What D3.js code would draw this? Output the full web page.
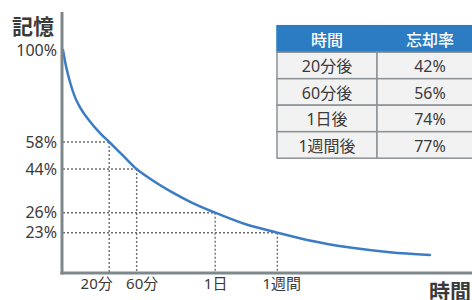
<!DOCTYPE html>
<html><head><meta charset="utf-8">
<script src="https://cdn.jsdelivr.net/npm/d3@7"></script>
<style>
html,body{margin:0;padding:0;background:#fff;}
svg{display:block;font-family:"Noto Sans","Noto Sans CJK JP",sans-serif;}
svg text{font-family:"Noto Sans","Noto Sans CJK JP",sans-serif;}
</style></head>
<body><svg id="c" width="472" height="300"></svg>
<script>
// ---- data ----
const timeLabels = ["20分", "60分", "1日", "1週間"];
const timePos = [11.3, 18.0, 37.2, 52.4];          // position on the (schematic) time axis
const retention = [58, 44, 26, 23];                // memory % at those times
const yTickValues = [100, 58, 44, 26, 23];
const curveT = [0, 0.73, 1.71, 2.93, 4.16, 6.60, 9.05, 11.3, 14.7, 18.0, 21.3, 26.2, 31.1, 37.2, 44.5, 52.4, 60.3, 70.2, 79.9, 89.7];
const curveV = [100, 92.7, 85.4, 78.5, 73.8, 67.4, 62.1, 58, 50.9, 44, 40.0, 34.9, 30.5, 26, 24.3, 23, 18.5, 14.4, 11.7, 10.1];
const tableHeader = ["時間", "忘却率"];
const tableTime = ["20分後", "60分後", "1日後", "1週間後"];
const tableRate = ["42%", "56%", "74%", "77%"];

// ---- scales ----
const svg = d3.select("#c");
const x = d3.scaleLinear().domain([0, 100]).range([63, 472]);
const y = d3.scaleLinear().domain([0, 23, 26, 44, 58, 100]).range([272.5, 232.7, 212.7, 169, 142, 50]);

const textCol = "#3a3a3a";
const axisCol = "#7e888b";
const FONT = '"Noto Sans", "Noto Sans CJK JP", sans-serif';

// dotted guides
const guides = svg.append("g").attr("stroke", "#6f6f6f").attr("stroke-width", 1.4).attr("stroke-dasharray", "2,2").attr("fill", "none");
timePos.forEach((t, i) => {
  guides.append("line").attr("x1", x(0)).attr("x2", x(t)).attr("y1", y(retention[i])).attr("y2", y(retention[i]));
  guides.append("line").attr("x1", x(t)).attr("x2", x(t)).attr("y1", y(retention[i])).attr("y2", y(0));
});

// curve
const pts = curveT.map((t, i) => [t, curveV[i]]);
svg.append("path").datum(pts)
  .attr("fill", "none").attr("stroke", "#3b7cc4").attr("stroke-width", 2.5).attr("stroke-linecap", "round")
  .attr("d", d3.line().x(d => x(d[0])).y(d => y(d[1])).curve(d3.curveMonotoneX));

// axes
const yAxis = d3.axisLeft(y).tickValues(yTickValues).tickFormat(d => d + "%").tickSize(0).tickPadding(6);
const gy = svg.append("g").attr("transform", "translate(62,0)").call(yAxis).attr("font-family", null);
gy.select(".domain").remove();
gy.selectAll("text").attr("font-size", 16).attr("fill", textCol).style("font-family", FONT).attr("x", -5);

const xAxis = d3.axisBottom(x).tickValues(timePos).tickFormat((d, i) => timeLabels[i]).tickSize(0).tickPadding(5);
const gx = svg.append("g").attr("transform", "translate(0,273)").call(xAxis).attr("font-family", null);
gx.select(".domain").remove();
gx.selectAll("text").attr("font-size", 15).attr("fill", textCol).style("font-family", FONT)
  .attr("text-anchor", (d, i) => i === 0 ? "end" : (i === 1 ? "start" : "middle"))
  .attr("dx", (d, i) => i === 0 ? 3 : (i === 1 ? -11 : (i === 3 ? 4 : 0)));

svg.append("line").attr("x1", 62).attr("x2", 62).attr("y1", 12).attr("y2", 274.5).attr("stroke", axisCol).attr("stroke-width", 3);
svg.append("line").attr("x1", 60.5).attr("x2", 472).attr("y1", 273).attr("y2", 273).attr("stroke", axisCol).attr("stroke-width", 3);

// axis titles
svg.append("text").attr("x", 12).attr("y", 34).attr("font-size", 21).attr("font-weight", 700).attr("fill", textCol).text("記憶");
svg.append("text").attr("x", 429).attr("y", 299).attr("font-size", 21).attr("font-weight", 700).attr("fill", textCol).text("時間");

// table
const tx = 277, ty = 25.7, rowH = 26.5, colW = [100, 106];
const tg = svg.append("g");
const rows = [tableHeader].concat(tableTime.map((t, i) => [t, tableRate[i]]));
rows.forEach((r, ri) => {
  let cx = tx;
  r.forEach((cell, ci) => {
    tg.append("rect").attr("x", cx).attr("y", ty + ri * rowH).attr("width", colW[ci]).attr("height", rowH)
      .attr("fill", ri === 0 ? "#2b7cc3" : "#f2f2f2")
      .attr("stroke", ri === 0 ? "#2b7cc3" : "#8c9295").attr("stroke-width", 1.5);
    tg.append("text").attr("x", cx + colW[ci] / 2).attr("y", ty + ri * rowH + rowH / 2 + 1)
      .attr("text-anchor", "middle").attr("dominant-baseline", "central")
      .attr("font-size", 16).attr("font-weight", ri === 0 ? 500 : 400)
      .attr("fill", ri === 0 ? "#ffffff" : textCol).text(cell);
    cx += colW[ci];
  });
});
</script></body></html>
